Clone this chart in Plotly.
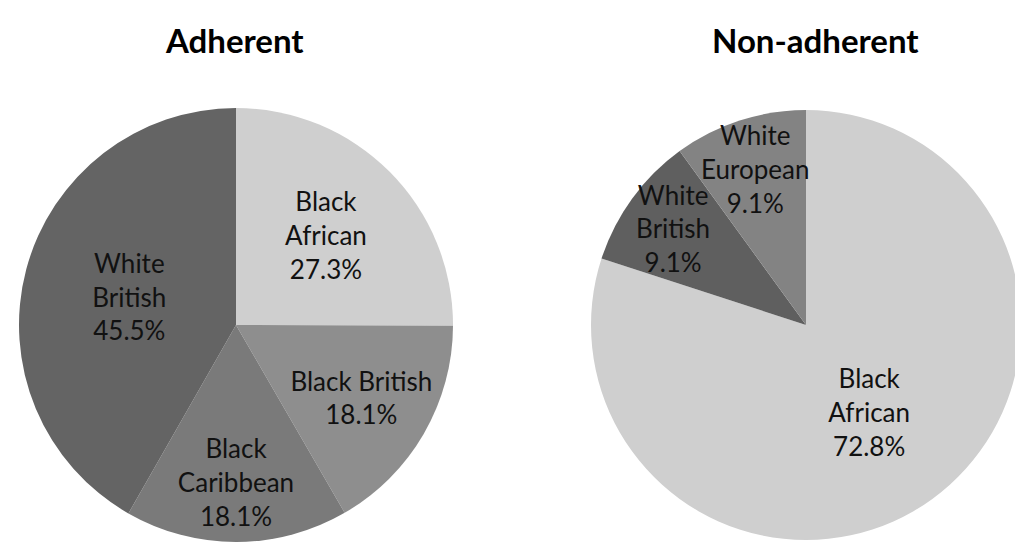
import plotly.graph_objects as go

# Data
adh_labels = ["Black<br>African", "Black British", "Black<br>Caribbean", "White<br>British"]
adh_values = [27.3, 18.1, 18.1, 45.5]
adh_colors = ["#cfcfcf", "#8e8e8e", "#7a7a7a", "#646464"]

non_labels = ["Black<br>African", "White<br>British", "White<br>European"]
non_values = [72.8, 9.1, 9.1]
non_colors = ["#cfcfcf", "#5f5f5f", "#838383"]

titles = ["Adherent", "Non-adherent"]

# The page body adds an 8px margin; lay out in the shifted frame
OFF = 8
W, H = 1023 - OFF, 542 - OFF
FONT = "Lato, 'Open Sans', sans-serif"

fig = go.Figure()

def dom(cx, cy, r):
    cx -= OFF
    cy -= OFF
    return dict(x=[max(0, (cx - r) / W), min(1, (cx + r) / W)],
                y=[max(0, (H - cy - r) / H), min(1, (H - cy + r) / H)])

fig.add_trace(go.Pie(
    labels=adh_labels, values=adh_values, sort=False, direction="clockwise", rotation=0,
    marker=dict(colors=adh_colors, line=dict(width=0)),
    texttemplate="%{label}<br>%{value:.1f}%", textposition="inside",
    insidetextorientation="horizontal",
    textfont=dict(family=FONT, size=26, color="#111111"),
    domain=dom(236, 325, 217), showlegend=False, hoverinfo="label+value",
))
fig.add_trace(go.Pie(
    labels=non_labels, values=non_values, sort=False, direction="clockwise", rotation=0,
    marker=dict(colors=non_colors, line=dict(width=0)),
    texttemplate="%{label}<br>%{value:.1f}%", textposition="inside",
    insidetextorientation="horizontal",
    textfont=dict(family=FONT, size=26, color="#111111"),
    domain=dom(806, 325, 215), showlegend=False, hoverinfo="label+value",
))

for t, cx in zip(titles, [234, 815]):
    fig.add_annotation(text="<b>%s</b>" % t, x=(cx - OFF) / W, y=1 - (40 - OFF) / H,
                       xref="paper", yref="paper",
                       showarrow=False, font=dict(family=FONT, size=33, color="#000000"),
                       xanchor="center", yanchor="middle")

fig.update_layout(
    width=W, height=H, margin=dict(l=0, r=0, t=0, b=0),
    paper_bgcolor="white", plot_bgcolor="white",
    uniformtext=dict(minsize=26, mode="show"),
)

fig.write_html("out.html")
